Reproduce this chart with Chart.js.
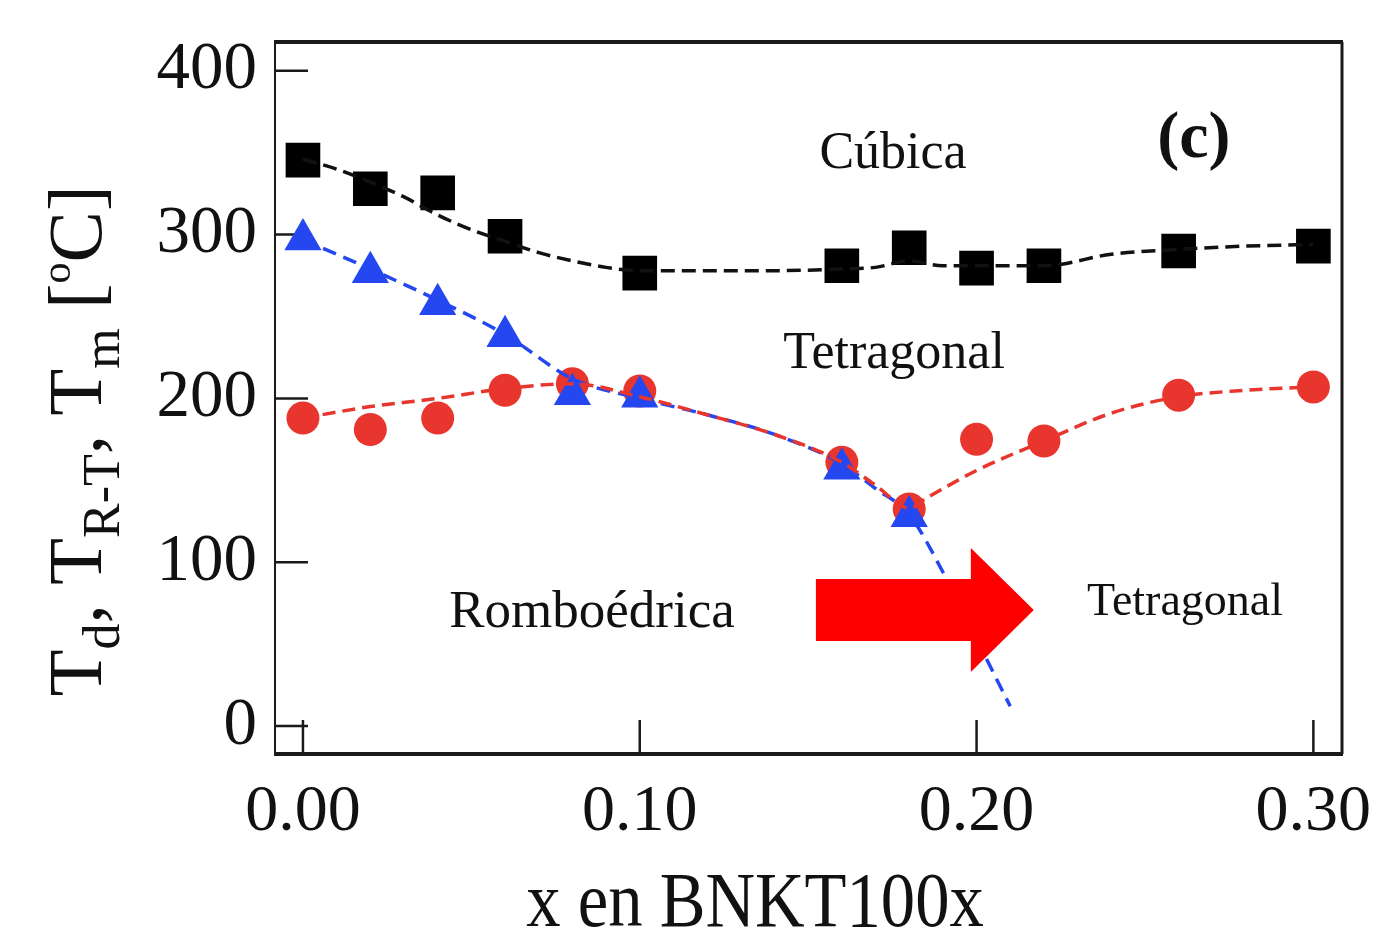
<!DOCTYPE html>
<html>
<head>
<meta charset="utf-8">
<script src="https://cdn.jsdelivr.net/npm/chart.js@4.4.1/dist/chart.umd.min.js"></script>
<style>
    body { margin: 0; background: #fff; }
</style>
</head>
<body>
<canvas id="grafico-fases" width="1374" height="933"></canvas>
<script>
// Eixos
const xTicks = [0, 0.1, 0.2, 0.3];
const yTicks = [0, 100, 200, 300, 400];

// Tm (cuadrados negros)
const xCubica = [0, 0.02, 0.04, 0.06, 0.10, 0.16, 0.18, 0.20, 0.22, 0.26, 0.30];
const tCubica = [345.5, 328, 325.5, 299, 276.5, 281, 292, 279.5, 281, 290, 293];

// TR-T (triángulos azules)
const xRT = [0, 0.02, 0.04, 0.06, 0.08, 0.10, 0.16, 0.18];
const tRT = [297, 277, 257.5, 238, 202.5, 201, 157, 128];

// Td (círculos rojos)
const xDep = [0, 0.02, 0.04, 0.06, 0.08, 0.10, 0.16, 0.18, 0.20, 0.22, 0.26, 0.30];
const tDep = [188, 181, 188, 205, 209, 204.5, 161, 132.5, 175, 174, 202, 207];

// Curvas de ajuste (líneas discontinuas)
const xAjusteCubica = [0, 0.01, 0.02, 0.03, 0.04, 0.05, 0.06, 0.07, 0.08, 0.09, 0.10, 0.12, 0.14, 0.16, 0.17, 0.18, 0.19, 0.20, 0.22, 0.24, 0.26, 0.28, 0.30];
const tAjusteCubica = [346, 340, 332, 323, 312, 303, 296, 289, 284, 280, 278, 278, 278, 279, 280, 284, 281, 281, 281, 288, 291, 293, 294];

const xAjusteRT = [0, 0.02, 0.04, 0.06, 0.08, 0.10, 0.12, 0.14, 0.16, 0.17, 0.18, 0.19, 0.20, 0.21];
const tAjusteRT = [297, 279, 260, 239, 212, 200, 190, 178, 160, 145, 129, 94, 53, 12];

const xAjusteDep = [0, 0.02, 0.04, 0.06, 0.08, 0.10, 0.12, 0.14, 0.16, 0.17, 0.18, 0.185, 0.20, 0.22, 0.24, 0.26, 0.28, 0.30];
const tAjusteDep = [188, 195, 200, 206, 209, 201, 190, 178, 161, 147, 133, 139, 156, 174, 191, 201, 205, 207];

const serif = "'Liberation Serif', 'Times New Roman', serif";
const pares = (xs, ys) => xs.map((v, i) => ({ x: v, y: ys[i] }));

// Marco del gráfico y marcas hacia dentro
const moldura = {
    id: 'moldura',
    beforeDatasetsDraw(chart) {
        const { ctx, chartArea: a, scales: { x, y } } = chart;
        ctx.save();
        ctx.strokeStyle = '#1a1a1a';
        const linha = (x1, y1, x2, y2, w) => {
            ctx.lineWidth = w;
            ctx.beginPath();
            ctx.moveTo(x1, y1);
            ctx.lineTo(x2, y2);
            ctx.stroke();
        };
        linha(a.left - 1, a.top, a.right + 1, a.top, 4);
        linha(a.left - 1, a.bottom, a.right + 1, a.bottom, 4);
        linha(a.left, a.top, a.left, a.bottom, 2);
        linha(a.right, a.top, a.right, a.bottom, 3);
        y.ticks.forEach(t => {
            const py = y.getPixelForValue(t.value);
            linha(a.left, py, a.left + 33, py, 2.5);
        });
        x.ticks.forEach(t => {
            const px = x.getPixelForValue(t.value);
            linha(px, a.bottom, px, a.bottom - 34, 2.5);
        });
        ctx.restore();
    }
};

// Textos de las fases, flecha y títulos de los ejes
const anotacoes = {
    id: 'anotacoes',
    afterDatasetsDraw(chart) {
        const { ctx, scales: { x, y } } = chart;
        ctx.save();
        ctx.fillStyle = '#111';
        ctx.textAlign = 'center';
        ctx.textBaseline = 'middle';
        const texto = (t, vx, vy, fonte) => {
            ctx.font = fonte;
            ctx.fillText(t, x.getPixelForValue(vx), y.getPixelForValue(vy));
        };
        texto('Cúbica', 0.1752, 349, `52px ${serif}`);
        texto('Tetragonal', 0.1755, 227, `52px ${serif}`);
        texto('Romboédrica', 0.0858, 69, `53px ${serif}`);
        texto('Tetragonal', 0.2619, 75, `46px ${serif}`);
        texto('(c)', 0.2645, 358, `bold 66px ${serif}`);

        // flecha roja
        const P = (vx, vy) => [x.getPixelForValue(vx), y.getPixelForValue(vy)];
        const pts = [
            P(0.1523, 89.7), P(0.1983, 89.7), P(0.1983, 108.7), P(0.2170, 70.8),
            P(0.1983, 33), P(0.1983, 51.9), P(0.1523, 51.9)
        ];
        ctx.fillStyle = '#ff0000';
        ctx.beginPath();
        pts.forEach((p, i) => i ? ctx.lineTo(p[0], p[1]) : ctx.moveTo(p[0], p[1]));
        ctx.closePath();
        ctx.fill();
        ctx.restore();

        // título del eje X (letra un poco estrecha)
        ctx.save();
        ctx.fillStyle = '#111';
        ctx.textAlign = 'center';
        ctx.textBaseline = 'alphabetic';
        ctx.font = `78px ${serif}`;
        ctx.translate(755, 926);
        ctx.scale(0.88, 1);
        ctx.fillText('x en BNKT100x', 0, 0);
        ctx.restore();

        // título del eje Y con subíndices
        const grande = `77px ${serif}`;
        const sub = `52px ${serif}`;
        const sup = `42px ${serif}`;
        const partes = [
            ['T', grande, 0], ['d', sub, 18], [', ', grande, 0],
            ['T', grande, 0], ['R-T', sub, 18], [', ', grande, 0],
            ['T', grande, 0], ['m', sub, 18], [' [', grande, 0],
            ['o', sup, -31], ['C]', grande, 0]
        ];
        ctx.save();
        ctx.fillStyle = '#111';
        ctx.textBaseline = 'alphabetic';
        ctx.textAlign = 'left';
        let total = 0;
        partes.forEach(p => { ctx.font = p[1]; total += ctx.measureText(p[0]).width; });
        ctx.translate(101, 441);
        ctx.rotate(-Math.PI / 2);
        let cx = -total / 2;
        partes.forEach(p => {
            ctx.font = p[1];
            ctx.fillText(p[0], cx, p[2]);
            cx += ctx.measureText(p[0]).width;
        });
        ctx.restore();
    }
};

const dados = {
    datasets: [
        {
            label: 'ajuste Td',
            data: pares(xAjusteDep, tAjusteDep),
            showLine: true, pointRadius: 0,
            borderColor: '#e8352d', borderWidth: 3.5, borderDash: [13, 7],
            cubicInterpolationMode: 'monotone', order: 0
        },
        {
            label: 'ajuste TR-T',
            data: pares(xAjusteRT, tAjusteRT),
            showLine: true, pointRadius: 0,
            borderColor: '#2447f0', borderWidth: 3.5, borderDash: [14, 8],
            cubicInterpolationMode: 'monotone', order: 0
        },
        {
            label: 'ajuste Tm',
            data: pares(xAjusteCubica, tAjusteCubica),
            showLine: true, pointRadius: 0,
            borderColor: '#111', borderWidth: 3.5, borderDash: [14, 7],
            cubicInterpolationMode: 'monotone', order: 0
        },
        {
            label: 'TR-T',
            data: pares(xRT, tRT),
            pointStyle: 'triangle', pointRadius: 21.5, pointBorderWidth: 0,
            backgroundColor: '#2447f0', borderColor: '#2447f0', order: 1
        },
        {
            label: 'Td',
            data: pares(xDep, tDep),
            pointStyle: 'circle', pointRadius: 16.5, pointBorderWidth: 0,
            backgroundColor: '#e8352d', borderColor: '#e8352d', order: 2
        },
        {
            label: 'Tm',
            data: pares(xCubica, tCubica),
            pointStyle: 'rect', pointRadius: 24.5, pointBorderWidth: 0,
            backgroundColor: '#000', borderColor: '#000', order: 3
        }
    ]
};

const config = {
    type: 'scatter',
    data: dados,
    options: {
        responsive: false,
        animation: false,
        layout: { padding: { top: 42, right: 32, left: 0, bottom: 0 } },
        plugins: {
            legend: { display: false },
            tooltip: { enabled: false }
        },
        scales: {
            x: {
                type: 'linear',
                min: -0.0083,
                max: 0.3085,
                afterBuildTicks: s => { s.ticks = xTicks.map(v => ({ value: v })); },
                afterFit: s => { s.height = 179; s.paddingLeft = 0; s.paddingRight = 0; },
                grid: { display: false, drawTicks: false },
                border: { display: false },
                ticks: {
                    font: { family: serif, size: 66 },
                    color: '#111',
                    padding: 19,
                    maxRotation: 0,
                    autoSkip: false,
                    callback: v => v.toFixed(2)
                }
            },
            y: {
                min: -17.1,
                max: 417.6,
                afterBuildTicks: s => { s.ticks = yTicks.map(v => ({ value: v })); },
                afterFit: s => { s.width = 275; s.paddingTop = 0; s.paddingBottom = 0; },
                grid: { display: false, drawTicks: false },
                border: { display: false },
                ticks: {
                    font: { family: serif, size: 67 },
                    color: '#111',
                    padding: 18,
                    autoSkip: false
                }
            }
        }
    },
    plugins: [moldura, anotacoes]
};

let graficoFases = new Chart(document.getElementById('grafico-fases'), config);
</script>
</body>
</html>
